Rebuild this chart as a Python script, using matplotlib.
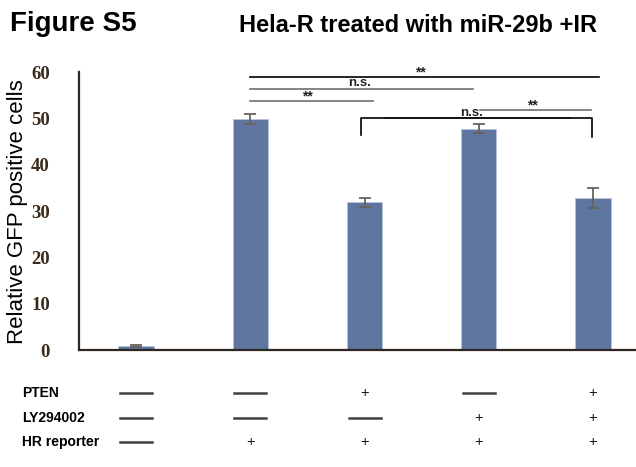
import matplotlib.pyplot as plt
import matplotlib.transforms as mtransforms
import numpy as np

# Values
groups = ["G1", "G2", "G3", "G4", "G5"]
gfp_means = [0.8, 49.8, 31.9, 47.8, 32.8]
gfp_errs = [0.2, 1.1, 1.0, 1.0, 2.1]

# treatment table under the bars ("+" / "-")
row_labels = ["PTEN", "LY294002", "HR reporter"]
pten = ["-", "-", "+", "-", "+"]
ly294002 = ["-", "-", "-", "+", "+"]
hr_reporter = ["-", "+", "+", "+", "+"]

# significance annotations: (x_start, x_end, y, label, label_x, label_y, color)
sig_lines = [
    (1.0, 4.05, 58.9, "**", 2.49, 60.0, "black"),
    (1.0, 2.95, 56.3, "n.s.", 1.96, 57.6, "#707070"),
    (1.0, 2.07, 53.8, "**", 1.50, 54.7, "#707070"),
    (3.01, 3.98, 51.8, "**", 3.47, 52.8, "#707070"),
    (2.18, 3.80, 50.1, "n.s.", 2.94, 51.1, "#707070"),
]

bar_color = "#5f76a0"
axis_color = "#2e2620"

fig = plt.figure(figsize=(6.36, 4.67), dpi=100)
ax = fig.add_axes([0.1242, 0.2505, 0.8758, 0.5953])

x = np.arange(len(groups))
ax.bar(x, gfp_means, width=0.31, color=bar_color, edgecolor="#b8c4da", linewidth=0.6,
       yerr=gfp_errs, capsize=4, error_kw=dict(ecolor="#6a625c", elinewidth=1.3, capthick=1.3))

ax.set_xlim(-0.499, 4.376)
ax.set_ylim(0, 60)
ax.set_xticks([])
ax.set_yticks(np.arange(0, 61, 10))
ax.tick_params(axis="y", length=0, pad=21)
for lab in ax.get_yticklabels():
    lab.set_fontfamily("Liberation Serif")
    lab.set_fontweight("bold")
    lab.set_fontsize(13.5)
    lab.set_color("#3a2a1a")
for side in ["top", "right"]:
    ax.spines[side].set_visible(False)
for side in ["left", "bottom"]:
    ax.spines[side].set_color(axis_color)
    ax.spines[side].set_linewidth(1.6)

ax.set_ylabel("Relative GFP positive cells", fontsize=16, fontfamily="Liberation Sans")
ax.yaxis.set_label_coords(-0.091, 0.497)

# significance lines
for x0, x1, yy, lab, lx, ly, col in sig_lines:
    ax.plot([x0, x1], [yy, yy], color=col, lw=1.2, clip_on=False)
    ax.text(lx, ly, lab, ha="center", va="center", fontsize=9.5 if lab == "n.s." else 10,
            fontweight="bold", fontfamily="Liberation Sans", color="#222222", clip_on=False)
# bracket between group 3 and group 5
ax.plot([1.97, 1.97, 3.99, 3.99], [46.4, 50.1, 50.1, 46.0], color="black", lw=1.2, clip_on=False)

# titles
fig.text(10 / 636, 1 - 24 / 467, "Figure S5", fontsize=20, fontweight="bold",
         fontfamily="Liberation Sans", va="center", ha="left")
fig.text(418 / 636, 1 - 26 / 467, "Hela-R treated with miR-29b +IR", fontsize=17, fontweight="bold",
         fontfamily="Liberation Sans", va="center", ha="center")

# treatment table
trans = mtransforms.blended_transform_factory(ax.transData, fig.transFigure)
row_y = [1 - 393 / 467, 1 - 418 / 467, 1 - 442 / 467]
for row_name, row_vals, ry in zip(row_labels, [pten, ly294002, hr_reporter], row_y):
    fig.text(22 / 636, ry, row_name, fontsize=10, fontweight="bold", fontfamily="Liberation Sans",
             va="center", ha="left")
    for xi, v in zip(x, row_vals):
        if v == "+":
            ax.text(xi, ry, "+", transform=trans, ha="center", va="center", fontsize=10.5,
                    fontfamily="Liberation Sans", color="#111111", clip_on=False)
        else:
            ax.plot([xi - 0.14, xi + 0.14], [ry, ry], transform=trans, color="#404040",
                    lw=1.8, clip_on=False)

fig.savefig("out.png", dpi=100)
